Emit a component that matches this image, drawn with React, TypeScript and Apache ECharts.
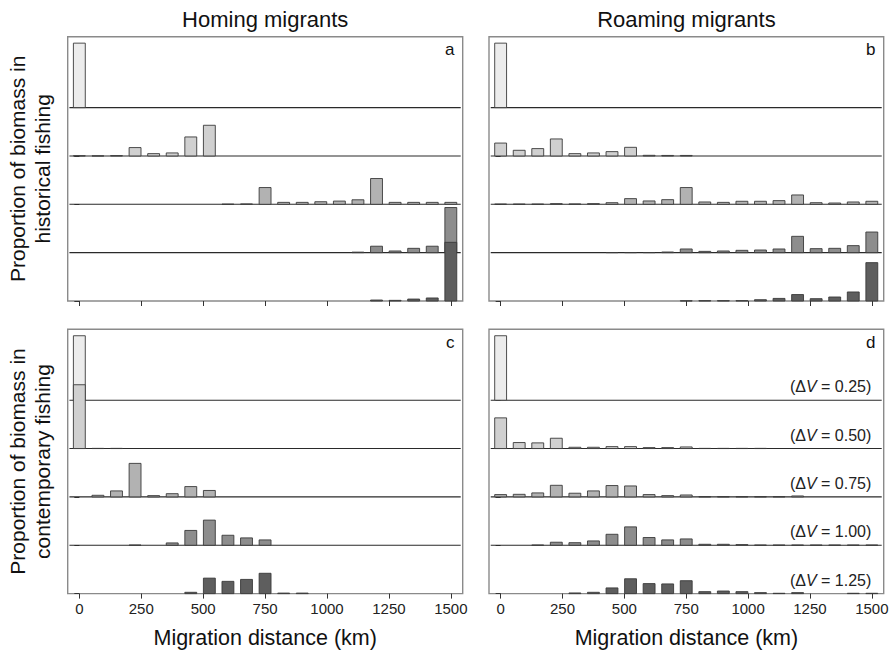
import React, { useEffect, useRef } from 'react';
import * as echarts from 'echarts';

// ---------- data ----------
const DISTANCES = [0, 75, 150, 225, 300, 375, 450, 525, 600, 675, 750, 825, 900, 975, 1050, 1125, 1200, 1275, 1350, 1425, 1500];
const X_TICKS = [0, 250, 500, 750, 1000, 1250, 1500];
const Y_TICKS = [0, 0.75, 1.5, 2.25, 3, 3.75];
const DELTA_V_LABELS = ['0.25', '0.50', '0.75', '1.00', '1.25'];
const PANEL_LETTERS = ['a', 'b', 'c', 'd'];
const COLUMN_TITLES = ['Homing migrants', 'Roaming migrants'];
const ROW_TITLES = [['Proportion of biomass in', 'historical fishing'], ['Proportion of biomass in', 'contemporary fishing']];
const X_TITLE = 'Migration distance (km)';

// (a) homing, historical fishing
const homingHist025 = [1.0, 0, 0, 0, 0, 0, 0, 0, 0, 0, 0, 0, 0, 0, 0, 0, 0, 0, 0, 0, 0];
const homingHist050 = [0.003, 0.001, 0.005, 0.13, 0.036, 0.047, 0.295, 0.476, 0, 0, 0, 0, 0, 0, 0, 0, 0, 0, 0, 0, 0];
const homingHist075 = [0, 0, 0, 0, 0, 0, 0, 0, 0.002, 0.005, 0.26, 0.03, 0.03, 0.04, 0.05, 0.07, 0.4, 0.03, 0.03, 0.03, 0.03];
const homingHist100 = [0, 0, 0, 0, 0, 0, 0, 0, 0, 0, 0, 0, 0, 0, 0, 0.008, 0.1, 0.026, 0.067, 0.1, 0.7];
const homingHist125 = [0, 0, 0, 0, 0, 0, 0, 0, 0, 0, 0, 0, 0, 0, 0, 0, 0.015, 0.01, 0.03, 0.047, 0.91];

// (b) roaming, historical fishing
const roamingHist025 = [1.0, 0, 0, 0, 0, 0, 0, 0, 0, 0, 0, 0, 0, 0, 0, 0, 0, 0, 0, 0, 0];
const roamingHist050 = [0.2, 0.088, 0.114, 0.264, 0.036, 0.047, 0.067, 0.134, 0.01, 0.008, 0.008, 0, 0, 0, 0, 0, 0, 0, 0, 0, 0];
const roamingHist075 = [0.003, 0.003, 0.003, 0.01, 0.005, 0.01, 0.025, 0.088, 0.052, 0.072, 0.26, 0.036, 0.03, 0.047, 0.047, 0.057, 0.145, 0.025, 0.02, 0.036, 0.047];
const roamingHist100 = [0, 0, 0, 0, 0, 0, 0.002, 0.002, 0.002, 0.01, 0.057, 0.02, 0.026, 0.036, 0.041, 0.057, 0.253, 0.062, 0.067, 0.109, 0.32];
const roamingHist125 = [0, 0, 0, 0, 0, 0, 0, 0, 0, 0, 0.003, 0.005, 0.005, 0.005, 0.02, 0.04, 0.1, 0.036, 0.062, 0.14, 0.595];

// (c) homing, contemporary fishing
const homingCont025 = [1.0, 0, 0, 0, 0, 0, 0, 0, 0, 0, 0, 0, 0, 0, 0, 0, 0, 0, 0, 0, 0];
const homingCont050 = [0.99, 0.003, 0.003, 0, 0, 0, 0, 0, 0, 0, 0, 0, 0, 0, 0, 0, 0, 0, 0, 0, 0];
const homingCont075 = [0, 0.025, 0.093, 0.52, 0.02, 0.05, 0.16, 0.1, 0, 0, 0, 0, 0, 0, 0, 0, 0, 0, 0, 0, 0];
const homingCont100 = [0, 0, 0, 0.003, 0, 0.036, 0.23, 0.39, 0.155, 0.114, 0.083, 0, 0, 0, 0, 0, 0, 0, 0, 0, 0];
const homingCont125 = [0, 0, 0, 0, 0, 0, 0.02, 0.24, 0.19, 0.22, 0.315, 0.008, 0.008, 0, 0, 0, 0, 0, 0, 0, 0];

// (d) roaming, contemporary fishing
const roamingCont025 = [1.0, 0, 0, 0, 0, 0, 0, 0, 0, 0, 0, 0, 0, 0, 0, 0, 0, 0, 0, 0, 0];
const roamingCont050 = [0.476, 0.093, 0.088, 0.16, 0.02, 0.02, 0.03, 0.03, 0.015, 0.015, 0.025, 0.003, 0.003, 0.003, 0.003, 0, 0, 0, 0, 0, 0];
const roamingCont075 = [0.036, 0.04, 0.062, 0.18, 0.057, 0.093, 0.176, 0.17, 0.036, 0.02, 0.03, 0.003, 0.003, 0.003, 0.003, 0.003, 0.015, 0, 0, 0, 0];
const roamingCont100 = [0, 0, 0.003, 0.047, 0.04, 0.067, 0.17, 0.285, 0.12, 0.083, 0.098, 0.015, 0.015, 0.01, 0.003, 0.003, 0.003, 0.003, 0.003, 0.003, 0.003];
const roamingCont125 = [0, 0, 0, 0, 0.01, 0.02, 0.088, 0.23, 0.155, 0.15, 0.2, 0.03, 0.04, 0.03, 0.015, 0.005, 0.015, 0, 0, 0.005, 0.005];

const PANELS = [
  [homingHist025, homingHist050, homingHist075, homingHist100, homingHist125],
  [roamingHist025, roamingHist050, roamingHist075, roamingHist100, roamingHist125],
  [homingCont025, homingCont050, homingCont075, homingCont100, homingCont125],
  [roamingCont025, roamingCont050, roamingCont075, roamingCont100, roamingCont125],
];

// ---------- styling / layout ----------
const ROW_STEP = 0.75;
const HALF_BAR = 24;
const X_MIN = -47;
const X_MAX = 1548;
const LINE_FROM = -40;
const LINE_TO = 1540;
const ROW_COLORS = ['#ececec', '#d0d0d0', '#b2b2b2', '#8d8d8d', '#5e5e5e'];
const FONT = '"Liberation Sans", Arial, Helvetica, sans-serif';
const GRID_BOXES = [
  { left: 67.7, top: 36.7, width: 395, height: 264.3 },
  { left: 489, top: 36.7, width: 394.7, height: 264.3 },
  { left: 67.7, top: 329.3, width: 395, height: 264.3 },
  { left: 489, top: 329.3, width: 394.7, height: 264.3 },
];

function buildOption() {
  const grids = GRID_BOXES.map((b) => ({
    ...b,
    show: true,
    borderColor: '#8a8a8a',
    borderWidth: 1.4,
    backgroundColor: 'transparent',
  }));

  const xAxes = GRID_BOXES.map((_, p) => ({
    type: 'value',
    gridIndex: p,
    min: X_MIN,
    max: X_MAX,
    axisLine: { show: false },
    splitLine: { show: false },
    axisTick: { show: true, length: 5, lineStyle: { color: '#333', width: 1 }, customValues: X_TICKS },
    axisLabel: {
      show: p >= 2,
      customValues: X_TICKS,
      formatter: (v: number) => String(v),
      margin: 7,
      fontSize: 15,
      color: '#222',
      fontFamily: FONT,
    },
  }));

  const yAxes = GRID_BOXES.map((_, p) => ({
    type: 'value',
    gridIndex: p,
    min: 0,
    max: 4.1,
    axisLine: { show: false },
    splitLine: { show: false },
    axisTick: { show: true, length: 5, lineStyle: { color: '#333', width: 1 }, customValues: Y_TICKS },
    axisLabel: { show: false },
  }));

  const series: any[] = [];
  PANELS.forEach((rows, p) => {
    // baselines (and ΔV labels in panel d)
    series.push({
      type: 'custom',
      xAxisIndex: p,
      yAxisIndex: p,
      silent: true,
      encode: { x: 0, y: 1 },
      data: rows.map((_, r) => [r, (rows.length - 1 - r) * ROW_STEP]),
      renderItem: (params: any, api: any) => {
        const r = api.value(0) as number;
        const off = api.value(1) as number;
        const children: any[] = [];
        if (off > 0) {
          const a = api.coord([LINE_FROM, off]);
          const b = api.coord([LINE_TO, off]);
          children.push({
            type: 'line',
            shape: { x1: a[0], y1: a[1], x2: b[0], y2: b[1] },
            style: { stroke: '#2a2a2a', lineWidth: 1.1 },
          });
        }
        if (p === 3) {
          const t = api.coord([1498, off + 0.21]);
          children.push({
            type: 'text',
            x: t[0],
            y: t[1],
            style: {
              text: '(Δ{it|V} = ' + DELTA_V_LABELS[r] + ')',
              align: 'right',
              verticalAlign: 'middle',
              fontSize: 16,
              fontFamily: FONT,
              fill: '#222',
              rich: { it: { fontStyle: 'italic', fontSize: 16, fontFamily: FONT, fill: '#222' } },
            },
          });
        }
        return { type: 'group', children };
      },
    });
    rows.forEach((vals, r) => {
      const off = (rows.length - 1 - r) * ROW_STEP;
      const color = ROW_COLORS[r];
      series.push({
        type: 'custom',
        xAxisIndex: p,
        yAxisIndex: p,
        silent: true,
        encode: { x: 0, y: 1 },
        data: DISTANCES.map((d, i) => [d, vals[i]]),
        renderItem: (params: any, api: any) => {
          const x = api.value(0) as number;
          const v = api.value(1) as number;
          if (!(v > 0)) return { type: 'group', children: [] };
          const tl = api.coord([x - HALF_BAR, off + v]);
          const br = api.coord([x + HALF_BAR, off]);
          return {
            type: 'rect',
            shape: { x: tl[0], y: tl[1], width: br[0] - tl[0], height: br[1] - tl[1] },
            style: { fill: color, stroke: '#3a3a3a', lineWidth: 0.9 },
          };
        },
      });
    });
  });

  const txt = (text: string, x: number, y: number, size: number, extra: any = {}) => ({
    type: 'text',
    x,
    y,
    silent: true,
    style: {
      text,
      fontSize: size,
      fontFamily: FONT,
      fill: '#111',
      align: 'center',
      verticalAlign: 'middle',
      ...extra,
    },
  });

  const graphic: any[] = [
    txt(COLUMN_TITLES[0], 265.2, 19.4, 22),
    txt(COLUMN_TITLES[1], 686.4, 19.4, 22),
    txt(X_TITLE, 265.2, 637.7, 21.5),
    txt(X_TITLE, 686.4, 637.7, 21.5),
    txt(PANEL_LETTERS[0], 454.5, 49.5, 17, { align: 'right' }),
    txt(PANEL_LETTERS[1], 875.5, 49.5, 17, { align: 'right' }),
    txt(PANEL_LETTERS[2], 454.5, 342.5, 17, { align: 'right' }),
    txt(PANEL_LETTERS[3], 875.5, 342.5, 17, { align: 'right' }),
  ];
  const rowCenters = [168.8, 461.5];
  ROW_TITLES.forEach((lines, i) => {
    graphic.push({ ...txt(lines[0], 17.8, rowCenters[i], 21), rotation: Math.PI / 2 });
    graphic.push({ ...txt(lines[1], 42.2, rowCenters[i], 21), rotation: Math.PI / 2 });
  });

  return {
    animation: false,
    backgroundColor: '#ffffff',
    grid: grids,
    xAxis: xAxes,
    yAxis: yAxes,
    series,
    graphic,
  };
}

export default function App() {
  const ref = useRef<HTMLDivElement>(null);
  useEffect(() => {
    if (!ref.current) return;
    const chart = echarts.init(ref.current, undefined, { renderer: 'svg' });
    chart.setOption(buildOption() as any);
    return () => chart.dispose();
  }, []);
  return (
    <div
      ref={ref}
      style={{ position: 'fixed', left: 0, top: 0, width: 892, height: 650, background: '#fff' }}
    />
  );
}
